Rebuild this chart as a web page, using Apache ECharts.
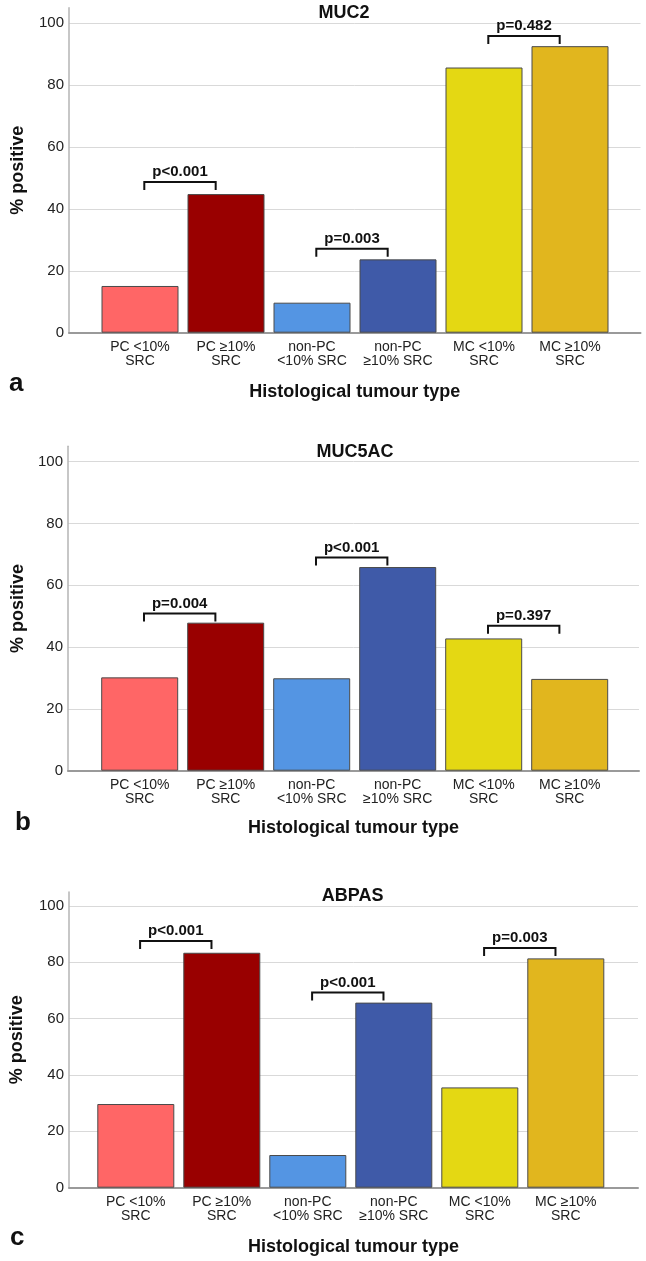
<!DOCTYPE html>
<html><head><meta charset="utf-8">
<script src="https://cdn.jsdelivr.net/npm/echarts@6/dist/echarts.min.js"></script>
<style>html,body{margin:0;padding:0;background:#fff}#c{width:646px;height:1261px}</style>
</head><body><div id="c"></div>
<script>
// ---------- data ----------
const categories = ['PC <10%\nSRC', 'PC \u226510%\nSRC', 'non-PC\n<10% SRC', 'non-PC\n\u226510% SRC', 'MC <10%\nSRC', 'MC \u226510%\nSRC'];
const barColors = ['#FF6666', '#990000', '#5495E3', '#3F5AA8', '#E4D813', '#E1B61E'];

const muc2Values   = [15.1, 44.8, 9.7, 23.7, 85.7, 92.6];
const muc5acValues = [30.2, 47.9, 29.9, 65.9, 42.8, 29.7];
const abpasValues  = [29.7, 83.4, 11.6, 65.7, 35.6, 81.4];

const muc2Pairs   = [[0, 1], [2, 3], [4, 5]];
const muc2PHeights = [48.7, 27.1, 95.9];
const muc2PLabels  = ['p<0.001', 'p=0.003', 'p=0.482'];

const muc5acPairs   = [[0, 1], [2, 3], [4, 5]];
const muc5acPHeights = [50.9, 69.0, 46.9];
const muc5acPLabels  = ['p=0.004', 'p<0.001', 'p=0.397'];

const abpasPairs   = [[0, 1], [2, 3], [4, 5]];
const abpasPHeights = [87.6, 69.3, 85.1];
const abpasPLabels  = ['p<0.001', 'p<0.001', 'p=0.003'];

const yTickMax = 100, yTickStep = 20;
const yAxisTitle = '% positive';
const xAxisTitle = 'Histological tumour type';

// ---------- layout ----------
const FONT = '"Liberation Sans", Arial, Helvetica, sans-serif';
const panels = [
  {title: 'MUC2', letter: 'a', values: muc2Values, pairs: muc2Pairs, heights: muc2PHeights, labels: muc2PLabels,
   axisX: 69, rightX: 640.5, top: 7.8, bottom: 332.7, catStart: 97, titleX: 344, titleY: 12.7,
   letterX: 9, letterY: 384, yNameGap: 41.5, xNameGap: 50.5},
  {title: 'MUC5AC', letter: 'b', values: muc5acValues, pairs: muc5acPairs, heights: muc5acPHeights, labels: muc5acPLabels,
   axisX: 68, rightX: 639, top: 446.2, bottom: 770.7, catStart: 96.7, titleX: 355, titleY: 451.7,
   letterX: 15, letterY: 822.6, yNameGap: 40.5, xNameGap: 48.3},
  {title: 'ABPAS', letter: 'c', values: abpasValues, pairs: abpasPairs, heights: abpasPHeights, labels: abpasPLabels,
   axisX: 64.5, rightX: 638, top: 891.9, bottom: 1187.7, catStart: 92.8, titleX: 352.7, titleY: 895.7,
   letterX: 10, letterY: 1237.6, yNameGap: 43, xNameGap: 50}
];
const CAT_W = 86;
const H = 1261;

const grid = [], xAxis = [], yAxis = [], series = [], title = [], graphic = [];

panels.forEach((p, k) => {
  const a = 2 * k, b = 2 * k + 1;
  const height = p.bottom - p.top;
  grid.push({left: p.axisX, top: p.top, width: p.rightX - p.axisX, height: height, containLabel: false});
  grid.push({left: p.catStart, top: p.top, width: CAT_W * categories.length, height: height, containLabel: false});

  xAxis.push({
    gridIndex: a, type: 'value', min: 0, max: 1,
    axisLine: {show: true, lineStyle: {color: '#9a9a9a', width: 2}},
    axisTick: {show: false}, axisLabel: {show: false}, splitLine: {show: false},
    name: xAxisTitle, nameLocation: 'middle', nameGap: p.xNameGap,
    nameTextStyle: {fontFamily: FONT, fontSize: 18, fontWeight: 'bold', color: '#111'}
  });
  xAxis.push({
    gridIndex: b, type: 'category', data: categories,
    axisLine: {show: false}, axisTick: {show: false},
    axisLabel: {interval: 0, fontFamily: FONT, fontSize: 14, lineHeight: 14, color: '#222', margin: 7}
  });

  yAxis.push({
    gridIndex: a, type: 'value', min: 0, max: 105, interval: yTickStep,
    axisLine: {show: true, lineStyle: {color: '#b5b5b5', width: 1.5}},
    axisTick: {show: false},
    axisLabel: {fontFamily: FONT, fontSize: 15, color: '#222', margin: 5, showMaxLabel: false,
      formatter: v => (v <= yTickMax ? String(v) : '')},
    splitLine: {show: true, showMaxLine: false, lineStyle: {color: '#d9d9d9', width: 1}},
    name: yAxisTitle, nameLocation: 'middle', nameRotate: 90, nameGap: p.yNameGap,
    nameTextStyle: {fontFamily: FONT, fontSize: 18, fontWeight: 'bold', color: '#111'}
  });
  yAxis.push({gridIndex: b, type: 'value', min: 0, max: 105, show: false});

  series.push({
    type: 'bar', xAxisIndex: b, yAxisIndex: b, barWidth: 77,
    data: p.values.map((v, i) => ({value: v, itemStyle: {color: barColors[i]}})),
    itemStyle: {borderColor: '#4a4a4a', borderWidth: 1},
    emphasis: {disabled: true}, silent: true
  });

  const labels = p.labels;
  series.push({
    type: 'custom', xAxisIndex: b, yAxisIndex: b, clip: false, silent: true,
    encode: {x: [0, 1], y: 2},
    data: p.pairs.map((pr, i) => [pr[0], pr[1], p.heights[i]]),
    renderItem: function (params, api) {
      const l = api.coord([api.value(0), api.value(2)]);
      const r = api.coord([api.value(1), api.value(2)]);
      const bw = api.size([1, 0])[0];
      const x1 = l[0] + bw * 0.05, x2 = r[0] - bw * 0.12, y = l[1];
      return {
        type: 'group',
        children: [
          {type: 'polyline', shape: {points: [[x1, y + 8], [x1, y], [x2, y], [x2, y + 8]]},
           style: {stroke: '#111', lineWidth: 2, fill: null}},
          {type: 'text', style: {text: labels[params.dataIndex], x: (x1 + x2) / 2, y: y - 10,
            align: 'center', verticalAlign: 'middle',
            font: 'bold 15px ' + FONT, fill: '#111'}}
        ]
      };
    }
  });

  title.push({
    text: p.title, left: p.titleX, top: p.titleY - 9, textAlign: 'center', padding: 0,
    textStyle: {fontFamily: FONT, fontSize: 18, fontWeight: 'bold', color: '#111', lineHeight: 18}
  });

  graphic.push({
    type: 'text', left: p.letterX, top: p.letterY - 13,
    style: {text: p.letter, font: 'bold 26px ' + FONT, fill: '#111'}
  });
});

const chart = echarts.init(document.getElementById('c'), null, {renderer: 'canvas'});
chart.setOption({
  animation: false,
  backgroundColor: '#fff',
  title: title, grid: grid, xAxis: xAxis, yAxis: yAxis, series: series, graphic: graphic
});
</script>
</body></html>
